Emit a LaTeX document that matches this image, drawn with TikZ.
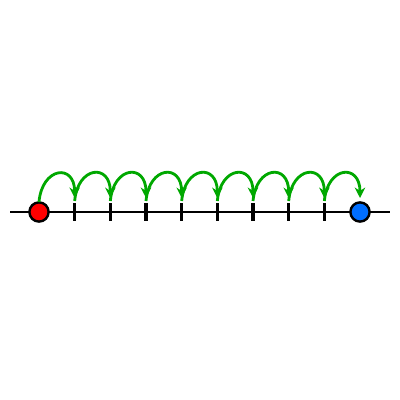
\documentclass[tikz,border=0pt]{standalone}
\usetikzlibrary{arrows.meta}
\definecolor{hopgreen}{RGB}{0,168,0}
\definecolor{ptred}{RGB}{255,0,0}
\definecolor{ptblue}{RGB}{0,110,255}
\begin{document}
\begin{tikzpicture}[x=0.025cm,y=-0.025cm,
  axis/.style={line width=2pt,black},
  tickmark/.style={line width=2.2pt,black},
  dot/.style={circle,draw=black,line width=1.7pt,minimum size=0.48cm,inner sep=0pt},
  hop/.style={hopgreen,line width=2pt,-{Stealth[length=0.26cm,width=0.26cm]}}]
\useasboundingbox (0,0) rectangle (400,400);
\draw[axis] (10,212) -- (390,212);
\foreach \i in {1,...,8}{
  \pgfmathsetmacro\xx{39+35.67*\i}
  \coordinate (t\i) at (\xx,212);
  \coordinate (e\i) at (\xx,198);
  \coordinate (s\i) at (\xx,201);
  \draw[tickmark] (\xx,203) -- (\xx,221);
}
\node[dot,fill=ptred] (r) at (39,212) {};
\node[dot,fill=ptblue] (b) at (360,212) {};
\coordinate (s0) at (39,202);
\coordinate (e9) at (360,198);
\foreach \i [evaluate=\i as \j using int(\i+1)] in {0,...,8}{
  \draw[hop] (s\i) .. controls +(3,-35) and +(0,-35) .. (e\j);
}
\end{tikzpicture}
\end{document}
